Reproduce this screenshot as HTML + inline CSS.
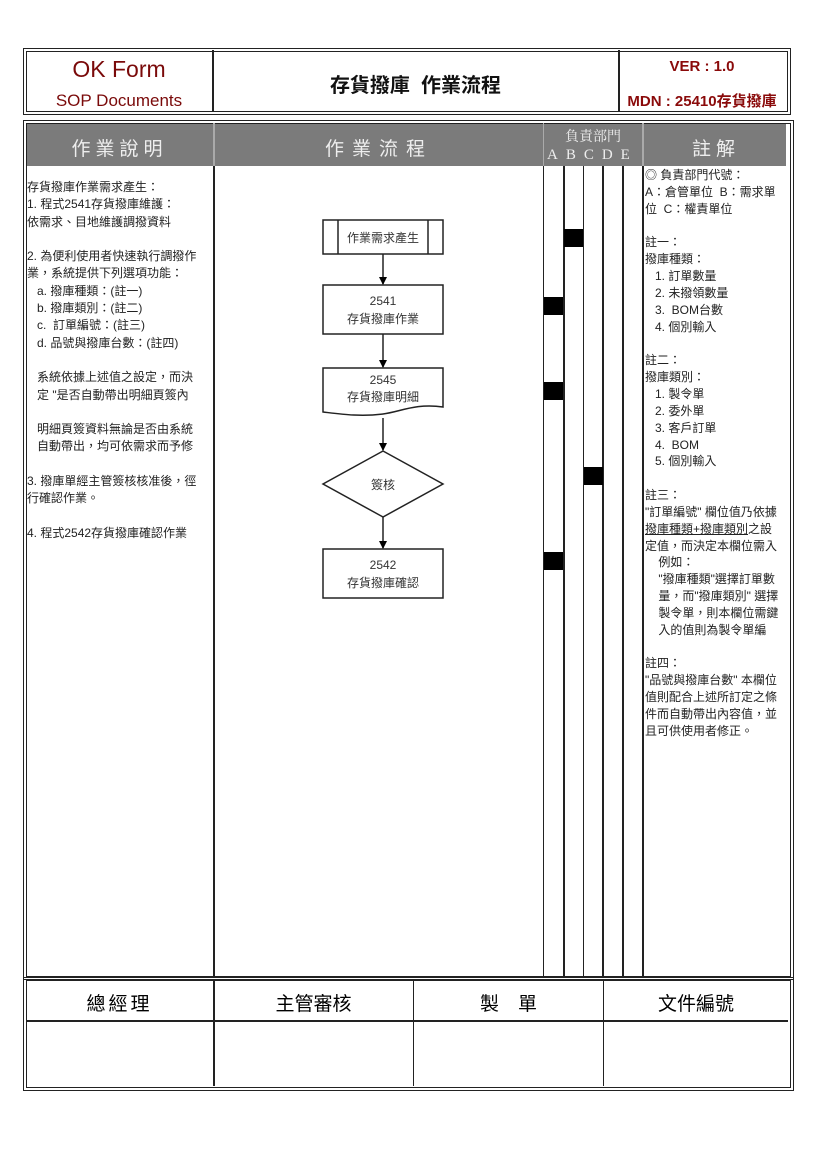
<!DOCTYPE html>
<html><head><meta charset="utf-8"><style>
body{margin:0;width:827px;height:1170px;background:#fff;position:relative;font-family:"Liberation Sans","Noto Sans CJK TC",sans-serif;overflow:hidden}
.a{position:absolute}
.t{font-size:12px;line-height:17.3px;color:#222;white-space:pre}
</style></head><body>
<!-- top header -->
<div class="a" style="left:23px;top:48px;width:760px;height:59px;border:4px double #222"></div>
<div class="a" style="left:212px;top:50px;width:2px;height:61px;background:#222"></div>
<div class="a" style="left:618px;top:50px;width:2px;height:61px;background:#222"></div>
<div class="a" style="left:26px;top:56px;width:186px;text-align:center;color:#7a0a0a;font-size:23px">OK Form</div>
<div class="a" style="left:26px;top:91px;width:186px;text-align:center;color:#7a0a0a;font-size:17px">SOP Documents</div>
<div class="a" style="left:213px;top:69px;width:405px;text-align:center;font-size:20px;font-weight:bold;color:#111">存貨撥庫&nbsp; 作業流程</div>
<div class="a" style="left:619px;top:58px;width:166px;text-align:center;color:#8a0a0a;font-size:15px;font-weight:bold">VER : 1.0</div>
<div class="a" style="left:619px;top:90px;width:166px;text-align:center;color:#8a0a0a;font-size:15px;font-weight:bold">MDN : 25410存貨撥庫</div>

<!-- main table -->
<div class="a" style="left:23px;top:120px;width:763px;height:852px;border:4px double #222"></div>
<div class="a" style="left:27px;top:124px;width:759px;height:42px;background:#7b7b7b"></div>
<div class="a" style="left:213px;top:123px;width:2px;height:853px;background:#222"></div>
<div class="a" style="left:543px;top:123px;width:1px;height:853px;background:#222"></div>
<div class="a" style="left:642px;top:123px;width:2px;height:853px;background:#222"></div>
<div class="a" style="left:213px;top:123px;width:2px;height:43px;background:#aaa"></div>
<div class="a" style="left:543px;top:123px;width:1px;height:43px;background:#aaa"></div>
<div class="a" style="left:642px;top:123px;width:2px;height:43px;background:#aaa"></div>
<div class="a" style="left:563px;top:166px;width:2px;height:810px;background:#222"></div>
<div class="a" style="left:583px;top:166px;width:1px;height:810px;background:#222"></div>
<div class="a" style="left:602px;top:166px;width:2px;height:810px;background:#222"></div>
<div class="a" style="left:622px;top:166px;width:2px;height:810px;background:#222"></div>
<div class="a" style="left:26px;top:134px;width:187px;text-align:center;color:#eee;font-size:19px;letter-spacing:5px">作業說明</div>
<div class="a" style="left:215px;top:134px;width:328px;text-align:center;color:#eee;font-size:19px;letter-spacing:8px">作業流程</div>
<div class="a" style="left:544px;top:126px;width:98px;text-align:center;color:#eee;font-size:14px;font-family:'Liberation Serif','Noto Serif CJK SC',serif">負責部門</div>
<div class="a" style="left:547px;top:147px;width:98px;color:#eee;font-size:15px;letter-spacing:8px;font-family:'Liberation Serif',serif">ABCDE</div>
<div class="a" style="left:644px;top:134px;width:144px;text-align:center;color:#eee;font-size:19px;letter-spacing:5px">註解</div>

<!-- left text -->
<div class="a t" style="left:27px;top:179px">存貨撥庫作業需求產生：
1. 程式2541存貨撥庫維護：
依需求、目地維護調撥資料

2. 為便利使用者快速執行調撥作
業，系統提供下列選項功能：
   a. 撥庫種類：(註一)
   b. 撥庫類別：(註二)
   c.  訂單編號：(註三)
   d. 品號與撥庫台數：(註四)

   系統依據上述值之設定，而決
   定 "是否自動帶出明細頁簽內

   明細頁簽資料無論是否由系統
   自動帶出，均可依需求而予修

3. 撥庫單經主管簽核核准後，徑
行確認作業。

4. 程式2542存貨撥庫確認作業</div>

<!-- notes -->
<div class="a t" style="left:645px;top:167px;line-height:16.85px">◎ 負責部門代號：
A：倉管單位  B：需求單
位  C：權責單位

註一：
撥庫種類：
   1. 訂單數量
   2. 未撥領數量
   3.  BOM台數
   4. 個別輸入

註二：
撥庫類別：
   1. 製令單
   2. 委外單
   3. 客戶訂單
   4.  BOM
   5. 個別輸入

註三：
"訂單編號" 欄位值乃依據
<u>撥庫種類+撥庫類別</u>之設
定值，而決定本欄位需入
    例如：
    "撥庫種類"選擇訂單數
    量，而"撥庫類別" 選擇
    製令單，則本欄位需鍵
    入的值則為製令單編

註四：
"品號與撥庫台數" 本欄位
值則配合上述所訂定之條
件而自動帶出內容值，並
且可供使用者修正。</div>

<!-- lane marks -->
<div class="a" style="left:564px;top:229px;width:19px;height:18px;background:#000"></div>
<div class="a" style="left:544px;top:297px;width:19px;height:18px;background:#000"></div>
<div class="a" style="left:544px;top:382px;width:19px;height:18px;background:#000"></div>
<div class="a" style="left:584px;top:467px;width:19px;height:18px;background:#000"></div>
<div class="a" style="left:544px;top:552px;width:19px;height:18px;background:#000"></div>

<!-- flowchart -->
<svg class="a" style="left:0;top:0" width="827" height="1170">
<defs><marker id="ar" markerWidth="8" markerHeight="8" refX="7" refY="4" orient="auto" markerUnits="userSpaceOnUse"><path d="M0,0L8,4L0,8z" fill="#000"/></marker></defs>
<g stroke="#222" stroke-width="1.5" fill="#fff">
<rect x="323" y="220" width="120" height="34"/>
<line x1="338" y1="220" x2="338" y2="254"/><line x1="428" y1="220" x2="428" y2="254"/>
<rect x="323" y="285" width="120" height="49"/>
<path d="M323,368H443V407C415,403 400,412 383,414C360,417 340,414 323,412Z"/>
<path d="M383,451L443,484L383,517L323,484Z"/>
<rect x="323" y="549" width="120" height="49"/>
<line x1="383" y1="254" x2="383" y2="284" marker-end="url(#ar)"/>
<line x1="383" y1="334" x2="383" y2="367" marker-end="url(#ar)"/>
<line x1="383" y1="418" x2="383" y2="450" marker-end="url(#ar)"/>
<line x1="383" y1="517" x2="383" y2="548" marker-end="url(#ar)"/>
</g>
<g font-size="12" fill="#333" text-anchor="middle" font-family="Liberation Sans,Noto Sans CJK TC,sans-serif">
<text x="383" y="242">作業需求產生</text>
<text x="383" y="305">2541</text><text x="383" y="323">存貨撥庫作業</text>
<text x="383" y="384">2545</text><text x="383" y="401">存貨撥庫明細</text>
<text x="383" y="489">簽核</text>
<text x="383" y="569">2542</text><text x="383" y="587">存貨撥庫確認</text>
</g>
</svg>

<!-- bottom table -->
<div class="a" style="left:23px;top:977px;width:763px;height:106px;border:4px double #222"></div>
<div class="a" style="left:26px;top:1020px;width:762px;height:2px;background:#222"></div>
<div class="a" style="left:213px;top:980px;width:2px;height:106px;background:#222"></div>
<div class="a" style="left:413px;top:980px;width:1px;height:106px;background:#222"></div>
<div class="a" style="left:603px;top:980px;width:1px;height:106px;background:#222"></div>
<div class="a" style="left:26px;top:989px;width:187px;text-align:center;font-size:19px;letter-spacing:3px">總經理</div>
<div class="a" style="left:214px;top:989px;width:199px;text-align:center;font-size:19px">主管審核</div>
<div class="a" style="left:414px;top:989px;width:189px;text-align:center;font-size:19px;word-spacing:0">製　單</div>
<div class="a" style="left:604px;top:989px;width:184px;text-align:center;font-size:19px">文件編號</div>
</body></html>
